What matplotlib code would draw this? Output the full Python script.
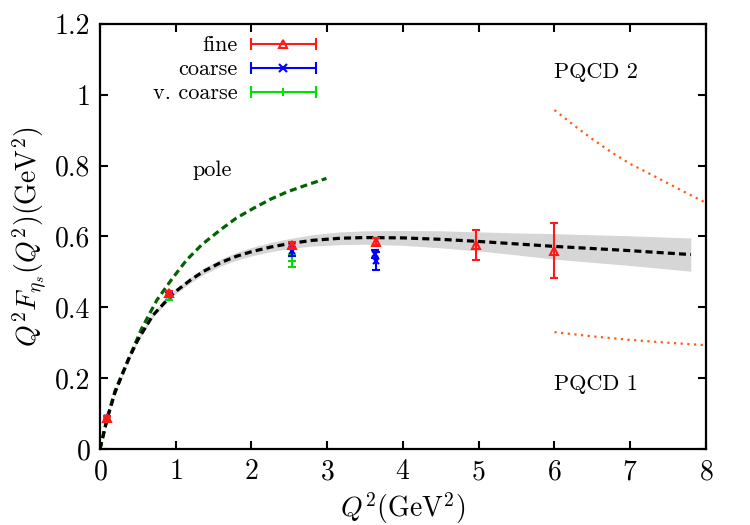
import matplotlib
matplotlib.use("Agg")
import matplotlib.pyplot as plt
from matplotlib.lines import Line2D
from matplotlib.legend_handler import HandlerLine2D, HandlerTuple

plt.rcParams['font.family'] = 'serif'
plt.rcParams['font.serif'] = ['cmr10', 'DejaVu Serif']
plt.rcParams['mathtext.fontset'] = 'cm'
plt.rcParams['axes.formatter.use_mathtext'] = True
plt.rcParams['axes.unicode_minus'] = False

# ---- data ----
fine_x = [0.09, 0.91, 2.53, 3.64, 4.97, 6.00]
fine_y = [0.088, 0.440, 0.576, 0.585, 0.576, 0.560]
fine_err = [0.005, 0.006, 0.008, 0.010, 0.041, 0.078]

coarse_x = [0.09, 0.91, 2.53, 3.63, 3.65]
coarse_y = [0.088, 0.436, 0.558, 0.550, 0.530]
coarse_err = [0.005, 0.006, 0.012, 0.012, 0.025]

vcoarse_x = [0.09, 0.91, 2.53]
vcoarse_y = [0.086, 0.428, 0.532]
vcoarse_err = [0.005, 0.006, 0.017]

fit_x = [0.0, 0.1, 0.2, 0.37, 0.5, 0.7, 0.97, 1.2, 1.37, 1.6, 1.8, 2.0, 2.25,
         2.5, 2.8, 3.17, 3.5, 4.0, 4.5, 5.0, 5.5, 6.0, 6.5, 7.0, 7.5, 7.8]
fit_y = [0.0, 0.09, 0.16, 0.25, 0.308, 0.378, 0.44, 0.478, 0.502, 0.527, 0.544, 0.557, 0.570,
         0.580, 0.589, 0.595, 0.597, 0.596, 0.592, 0.586, 0.579, 0.572, 0.566, 0.560, 0.553, 0.549]
fit_err = [0.0, 0.002, 0.003, 0.004, 0.005, 0.006, 0.007, 0.008, 0.009, 0.010, 0.011, 0.012, 0.013,
           0.014, 0.016, 0.018, 0.019, 0.021, 0.024, 0.027, 0.031, 0.036, 0.039, 0.042, 0.045, 0.047]

pole_x = [0.0, 0.1, 0.2, 0.37, 0.55, 0.75, 0.95, 1.145, 1.35, 1.585, 1.8, 2.03, 2.25, 2.47, 2.75, 2.99]
pole_y = [0.0, 0.09, 0.165, 0.25, 0.34, 0.42, 0.48, 0.534, 0.578, 0.618, 0.652, 0.68, 0.705, 0.726, 0.747, 0.764]

pqcd2_x = [6.0, 6.25, 6.5, 6.75, 7.0, 7.25, 7.5, 7.75, 8.0]
pqcd2_y = [0.957, 0.915, 0.875, 0.838, 0.805, 0.778, 0.750, 0.722, 0.695]

pqcd1_x = [6.0, 6.5, 7.0, 7.5, 8.0]
pqcd1_y = [0.330, 0.318, 0.308, 0.300, 0.293]

x_ticks = [0, 1, 2, 3, 4, 5, 6, 7, 8]
y_ticks = [0, 0.2, 0.4, 0.6, 0.8, 1.0, 1.2]
y_ticklabels = ['0', '0.2', '0.4', '0.6', '0.8', '1', '1.2']

RED = '#ff1a1a'
BLUE = '#0000ff'
GREEN = '#00e000'
ORANGE = '#ff5a14'
DGREEN = '#006400'

fig = plt.figure(figsize=(7.5, 5.25), dpi=100)
ax = fig.add_axes([0.1333, 0.1448, 0.8080, 0.8095])

lo = [y - e for y, e in zip(fit_y, fit_err)]
hi = [y + e for y, e in zip(fit_y, fit_err)]
ax.fill_between(fit_x, lo, hi, color='#d6d6d6', lw=0, zorder=1)
ax.plot(fit_x, fit_y, color='black', lw=2.3, dashes=(2.2, 1.3), zorder=3)
ax.plot(pole_x, pole_y, color=DGREEN, lw=2.3, dashes=(2.2, 1.3), zorder=2)
ax.plot(pqcd2_x, pqcd2_y, color=ORANGE, lw=1.6, dashes=(1, 2.0), zorder=2)
ax.plot(pqcd1_x, pqcd1_y, color=ORANGE, lw=1.6, dashes=(1, 2.0), zorder=2)

ax.errorbar(vcoarse_x, vcoarse_y, yerr=vcoarse_err, fmt='+', color=GREEN, ms=6, mew=1.5,
            elinewidth=1.5, capsize=3, capthick=1.5, zorder=4)
ax.errorbar(coarse_x, coarse_y, yerr=coarse_err, fmt='x', color=BLUE, ms=5, mew=1.5,
            elinewidth=1.5, capsize=3, capthick=1.5, zorder=5)
ax.errorbar(fine_x, fine_y, yerr=fine_err, fmt='^', color=RED, mfc='none', ms=6, mew=1.5,
            elinewidth=1.5, capsize=3, capthick=1.5, zorder=6)

ax.set_xlim(0, 8)
ax.set_ylim(0, 1.2)
ax.set_xticks(x_ticks)
ax.set_yticks(y_ticks)
ax.set_yticklabels(y_ticklabels)
ax.tick_params(direction='in', length=6, width=1.5, top=True, right=True, labelsize=20, pad=7)
for s in ax.spines.values():
    s.set_linewidth(1.6)

ax.set_xlabel(r'$Q^2({\rm GeV}^2)$', fontsize=20, labelpad=4)
ax.set_ylabel(r'$Q^2F_{\eta_s}(Q^2)({\rm GeV}^2)$', fontsize=20, labelpad=4)

ax.text(6.0, 1.065, 'PQCD 2', fontsize=16, va='center', ha='left')
ax.text(6.0, 0.183, 'PQCD 1', fontsize=16, va='center', ha='left')
ax.text(1.22, 0.788, 'pole', fontsize=16, va='center', ha='left')

# legend handles (gnuplot style: capped horizontal bar with marker in the middle)
handles = []
hmap = {}
for c, m, kw in [(RED, '^', dict(mfc='none')), (BLUE, 'x', {}), (GREEN, '|', {})]:
    caps = Line2D([], [], color=c, lw=1.5, marker='|', ms=8, mew=1.5)
    mk = Line2D([], [], color=c, ls='none', marker=m, ms=6, mew=1.5, **kw)
    hmap[caps] = HandlerLine2D(numpoints=2, marker_pad=0)
    hmap[mk] = HandlerLine2D(numpoints=1)
    handles.append((caps, mk))
hmap[tuple] = HandlerTuple(ndivide=1)
leg = ax.legend(handles, ['fine', 'coarse', 'v. coarse'], handler_map=hmap, markerfirst=False,
                loc='upper left', bbox_to_anchor=(0.088, 0.972), frameon=False, fontsize=16,
                handlelength=2.9, handletextpad=0.6, labelspacing=0.2, borderpad=0,
                borderaxespad=0)

fig.savefig('out.png', dpi=100)
